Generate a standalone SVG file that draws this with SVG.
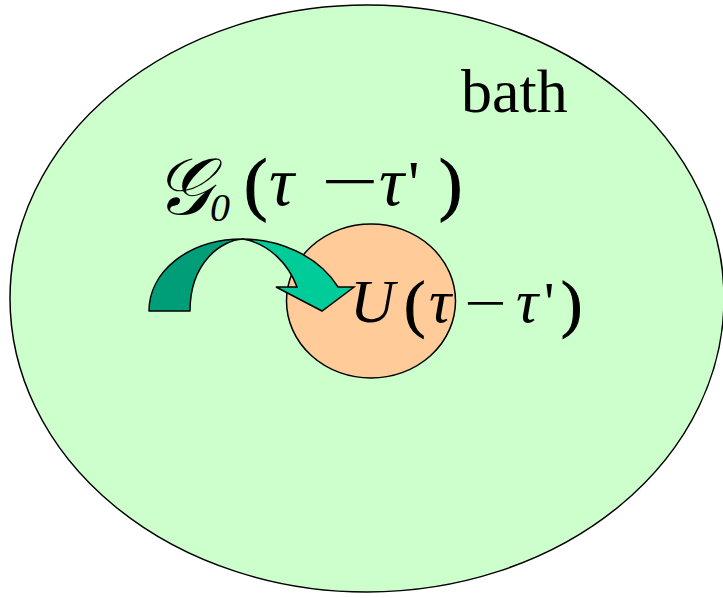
<svg xmlns="http://www.w3.org/2000/svg" width="723" height="598" viewBox="0 0 723 598">
<style>
.o{stroke:#000;stroke-width:1.5}
.t{font-family:"Liberation Serif","Times New Roman",serif;fill:#000}
.i{font-style:italic}
</style>
<rect width="723" height="598" fill="#fff"/>
<g id="bath">
<ellipse cx="367" cy="298.5" rx="357" ry="293.5" fill="#CCFFCC" class="o"/>
<text class="t" x="461" y="112" font-size="62">bath</text>
</g>
<g id="impurity">
<ellipse cx="371" cy="301" rx="84.5" ry="77" fill="#FFCC99" class="o"/>
</g>
<g id="connectors">
<path d="M149,311 C149,272 188,239 243,239 C222,240 190,262 190,311 Z" fill="#009E78" class="o" stroke-linejoin="round"/>
<path d="M243,239 C278,239 318,255 338,287 L354,287 L322,311 L276,287 L297,287 C289,265 270,244 243,239 Z" fill="#00CC99" class="o"/>
</g>
<g id="labels">
<text class="t i" x="154" y="214" font-size="80">𝒢</text>
<text class="t i" x="210" y="221" font-size="40">0</text>
<text class="t" x="244" y="207" font-size="70" stroke="#000" stroke-width="1.2">(</text>
<text class="t i" x="269" y="205" font-size="70">τ</text>
<text class="t" transform="translate(321,203) scale(1.6,1)" font-size="64">−</text>
<text class="t i" x="379" y="205" font-size="70">τ</text>
<text class="t" x="408" y="205" font-size="64">'</text>
<text class="t" x="439" y="207" font-size="70" stroke="#000" stroke-width="1.2">)</text>
<text class="t i" x="350" y="322" font-size="62">U</text>
<text class="t" x="404" y="325" font-size="64" stroke="#000" stroke-width="1">(</text>
<text class="t i" x="429" y="322" font-size="62">τ</text>
<text class="t" transform="translate(464,322) scale(1.35,1)" font-size="56">−</text>
<text class="t i" x="516" y="322" font-size="62">τ</text>
<text class="t" x="544" y="322" font-size="58">'</text>
<text class="t" x="561" y="325" font-size="64" stroke="#000" stroke-width="1">)</text>
</g>
</svg>
